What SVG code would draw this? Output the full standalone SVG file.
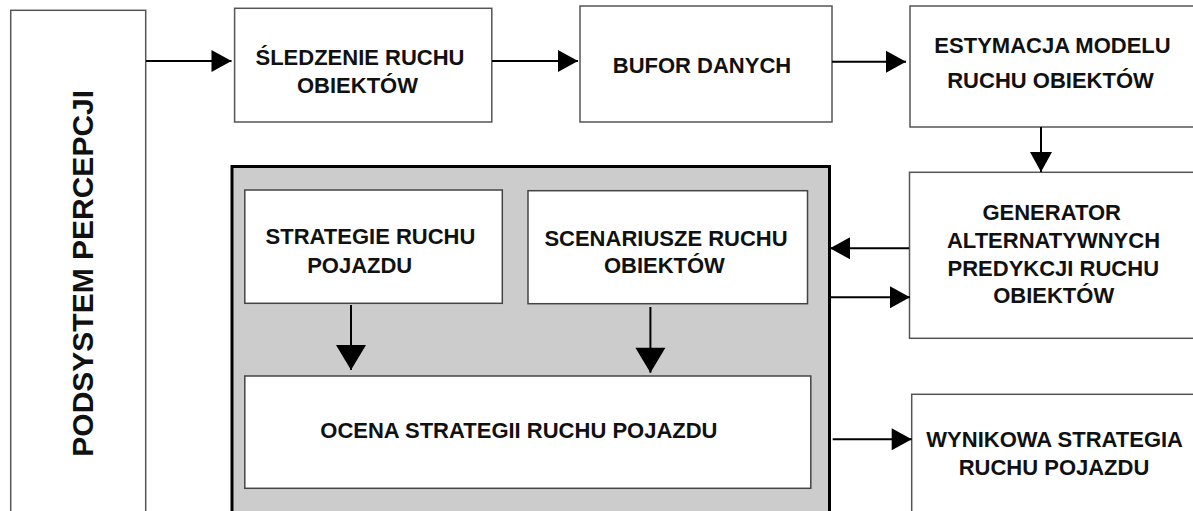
<svg xmlns="http://www.w3.org/2000/svg" width="1193" height="511" viewBox="0 0 1193 511">
<style>
.box{fill:#fff;stroke:#555;stroke-width:1.5}
.ibox{fill:#fff;stroke:#444;stroke-width:1.5}
.cont{fill:#cccccc;stroke:#000;stroke-width:3}
.t{font-family:"Liberation Sans",Arial,sans-serif;font-weight:bold;font-size:22px;fill:#111;text-anchor:middle}
.big{font-size:30px}
.c{stroke:#000;stroke-width:2;fill:none}
</style>
<defs>
<marker id="ah" markerUnits="userSpaceOnUse" markerWidth="20" markerHeight="22" refX="20" refY="11" orient="auto" overflow="visible">
<path d="M0,0 L20,11 L0,22 z" fill="#000"/>
</marker>
<marker id="ahL" markerUnits="userSpaceOnUse" markerWidth="25" markerHeight="30" refX="25" refY="15" orient="auto" overflow="visible">
<path d="M0,0 L25,15 L0,30 z" fill="#000"/>
</marker>
</defs>
<rect width="1193" height="511" fill="#fff"/>

<g id="podsystem">
<rect class="box" x="10.7" y="10.3" width="135" height="600"/>
<text class="t big" transform="translate(92.5,273.3) rotate(-90)">PODSYSTEM PERCEPCJI</text>
</g>

<g id="sledzenie">
<rect class="box" x="234.6" y="8.3" width="257.2" height="113.7"/>
<text class="t" x="360" y="65">ŚLEDZENIE RUCHU</text>
<text class="t" x="357.5" y="92.7">OBIEKTÓW</text>
</g>

<g id="bufor">
<rect class="box" x="580" y="6" width="252" height="116"/>
<text class="t" x="702" y="72.7">BUFOR DANYCH</text>
</g>

<g id="estymacja">
<rect class="box" x="910" y="6" width="300" height="121"/>
<text class="t" x="1052.5" y="53">ESTYMACJA MODELU</text>
<text class="t" x="1050.5" y="88">RUCHU OBIEKTÓW</text>
</g>

<g id="generator">
<rect class="box" x="909.5" y="172.3" width="300" height="166"/>
<text class="t" x="1051.7" y="220">GENERATOR</text>
<text class="t" x="1053.5" y="248.3">ALTERNATYWNYCH</text>
<text class="t" x="1053.3" y="276">PREDYKCJI RUCHU</text>
<text class="t" x="1053.7" y="303.3">OBIEKTÓW</text>
</g>

<g id="wynikowa">
<rect class="box" x="911.7" y="394.3" width="300" height="200"/>
<text class="t" x="1054.7" y="447.3">WYNIKOWA STRATEGIA</text>
<text class="t" x="1054" y="475">RUCHU POJAZDU</text>
</g>

<g id="kontener">
<rect class="cont" x="232" y="166.5" width="597.5" height="400"/>
</g>

<g id="strategie">
<rect class="ibox" x="244.8" y="190" width="257.5" height="113.3"/>
<text class="t" x="370.5" y="244">STRATEGIE RUCHU</text>
<text class="t" x="359.7" y="272.7">POJAZDU</text>
</g>

<g id="scenariusze">
<rect class="ibox" x="528" y="190.7" width="279.5" height="113"/>
<text class="t" x="666" y="245.7">SCENARIUSZE RUCHU</text>
<text class="t" x="664.4" y="273.3">OBIEKTÓW</text>
</g>

<g id="ocena">
<rect class="ibox" x="244.8" y="376" width="566" height="112.3"/>
<text class="t" x="518.9" y="437.7">OCENA STRATEGII RUCHU POJAZDU</text>
</g>

<g id="connectors">
<line class="c" x1="146" y1="61" x2="231.5" y2="61" marker-end="url(#ah)"/>
<line class="c" x1="492" y1="61" x2="578" y2="61" marker-end="url(#ah)"/>
<line class="c" x1="832" y1="61.7" x2="906" y2="61.7" marker-end="url(#ah)"/>
<line class="c" x1="1041" y1="127" x2="1041" y2="172" marker-end="url(#ah)"/>
<line class="c" x1="909" y1="248.3" x2="830" y2="248.3" marker-end="url(#ah)"/>
<line class="c" x1="830" y1="297.3" x2="910" y2="297.3" marker-end="url(#ah)"/>
<line class="c" x1="351" y1="305" x2="351" y2="370" marker-end="url(#ahL)"/>
<line class="c" x1="650.4" y1="307" x2="650.4" y2="372.7" marker-end="url(#ahL)"/>
<line class="c" x1="832.7" y1="439.3" x2="911.7" y2="439.3" marker-end="url(#ah)"/>
</g>
</svg>
